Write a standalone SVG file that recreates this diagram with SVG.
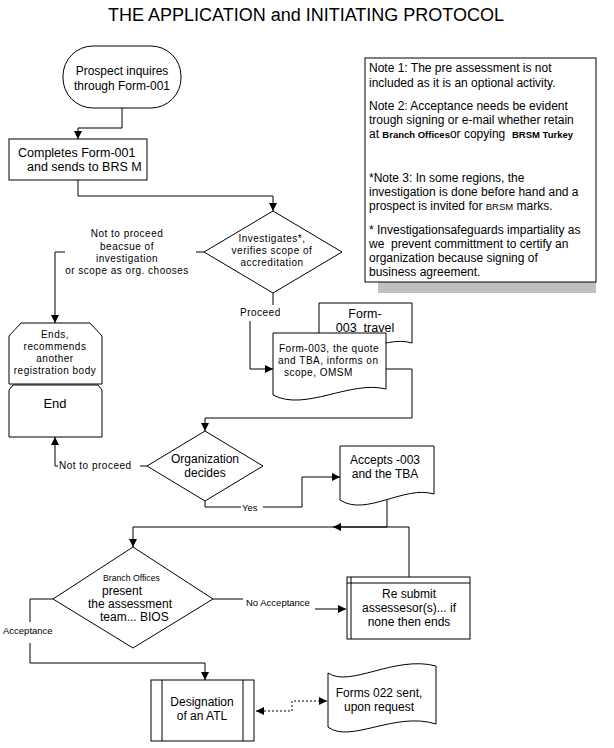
<svg xmlns="http://www.w3.org/2000/svg" width="614" height="748" viewBox="0 0 614 748">
<defs>
<marker id="arr" viewBox="0 0 10 10" refX="10" refY="5" markerWidth="8" markerHeight="8" markerUnits="userSpaceOnUse" orient="auto-start-reverse">
<path d="M0,0 L10,5 L0,10 z" fill="#000"/>
</marker>
<style>
.s{fill:#fff;stroke:#000;stroke-width:1}
.c{fill:none;stroke:#000;stroke-width:1}
.d{fill:none;stroke:#000;stroke-width:1;stroke-dasharray:2,2}
text{font-family:"Liberation Sans",Arial,sans-serif;fill:#000}
.t12{font-size:12px}
.t125{font-size:12.5px}
.sm{font-size:10px;letter-spacing:0.5px}
.lb{font-size:9.5px}
.mid{text-anchor:middle}
.cal{font-size:9.5px;font-weight:bold}
</style>
</defs>
<rect width="614" height="748" fill="#fff"/>
<g id="title"><text x="306" y="21" font-size="18" class="mid">THE APPLICATION and INITIATING PROTOCOL</text></g>

<g id="connectors">
<path class="c" d="M122,108 V128 H78 V139" marker-end="url(#arr)"/>
<path class="c" d="M78,180 V196 H273 V211" marker-end="url(#arr)"/>
<path class="c" d="M204,252 H196"/>
<path class="c" d="M65,252 H55 V323" marker-end="url(#arr)"/>
<path class="c" d="M273,293 V305"/>
<path class="c" d="M250,321 V369 H273" marker-end="url(#arr)"/>
<path class="c" d="M386,369 H412 V418 H205 V431" marker-end="url(#arr)"/>
<path class="c" d="M147,466 H140"/>
<path class="c" d="M58,466 H55 V437" marker-end="url(#arr)"/>
<path class="c" d="M205,501 V507 H241"/>
<path class="c" d="M263,507 H302 V477 H340" marker-end="url(#arr)"/>
<path class="c" d="M387,500 V527 H133 V547" marker-end="url(#arr)"/>
<path class="c" d="M409,577 V527 H333" marker-end="url(#arr)"/>
<path class="c" d="M213,599 H243"/>
<path class="c" d="M315,609 H346" marker-end="url(#arr)"/>
<path class="c" d="M53,599 H30 V622"/>
<path class="c" d="M30,643 V663 H205 V680" marker-end="url(#arr)"/>
<path class="d" d="M256,711 H292 V701 H327" marker-start="url(#arr)" marker-end="url(#arr)"/>
<text class="sm mid" x="127" y="237">Not to proceed</text>
<text class="sm mid" x="127" y="250">beacsue of</text>
<text class="sm mid" x="127" y="262">investigation</text>
<text class="sm mid" x="127" y="274">or scope as org. chooses</text>
<text class="sm" x="240" y="316">Proceed</text>
<text class="sm" x="59" y="469">Not to proceed</text>
<text class="lb" x="242" y="511">Yes</text>
<text class="lb" x="246" y="606">No Acceptance</text>
<text class="lb" x="3" y="634">Acceptance</text>
</g>

<g id="n-prospect">
<rect class="s" x="63" y="46" width="118" height="62" rx="30" ry="30"/>
<text class="t12 mid" x="122" y="75">Prospect inquires</text>
<text class="t12 mid" x="122" y="90">through Form-001</text>
</g>

<g id="n-completes">
<rect class="s" x="9" y="139" width="138" height="41"/>
<text class="t125" x="18" y="157">Completes Form-001</text>
<text class="t125" x="27" y="171">and sends to BRS M</text>
</g>

<g id="n-investigates">
<polygon class="s" points="273,211 342,252 273,293 204,252"/>
<text class="sm mid" x="272" y="242">Investigates*,</text>
<text class="sm mid" x="272" y="254">verifies scope of</text>
<text class="sm mid" x="272" y="266">accreditation</text>
</g>

<g id="n-ends">
<polygon class="s" points="21,323 90,323 102,336 102,384 9,384 9,336"/>
<text class="sm mid" x="55" y="338">Ends,</text>
<text class="sm mid" x="55" y="350">recommends</text>
<text class="sm mid" x="55" y="362">another</text>
<text class="sm mid" x="55" y="374">registration body</text>
</g>

<g id="n-end">
<polygon class="s" points="13,385 98,385 102,390 102,437 9,437 9,390"/>
<text class="mid" x="55" y="408" font-size="13">End</text>
</g>

<g id="n-form003travel">
<path class="s" d="M319,303 H412 V343 C382,334 345,366 319,349 Z"/>
<text class="mid" x="365" y="318" font-size="12.5">Form-</text>
<text class="mid" x="365" y="332" font-size="12.5" xml:space="preserve">003  travel</text>
</g>

<g id="n-form003">
<path class="s" d="M273,333 H386 V389 C350,380 305,412 273,395 Z"/>
<text class="sm" x="279" y="352">Form-003, the quote</text>
<text class="sm" x="278" y="364">and TBA, informs on</text>
<text class="sm" x="284" y="376">scope, OMSM</text>
</g>

<g id="n-decides">
<polygon class="s" points="147,466 205,431 263,466 205,501"/>
<text class="t12 mid" x="205" y="463">Organization</text>
<text class="t12 mid" x="205" y="477">decides</text>
</g>

<g id="n-accepts">
<path class="s" d="M340,446 H434 V494 C404,485 366,517 340,500 Z"/>
<text class="t12 mid" x="385" y="464">Accepts -003</text>
<text class="t12 mid" x="385" y="478">and the TBA</text>
</g>

<g id="n-branch">
<polygon class="s" points="133,547 213,599 133,648 53,599"/>
<text x="103" y="581" font-size="8.7">Branch Offices</text>
<text class="t12" x="102" y="595">present</text>
<text class="t12" x="88" y="608">the assessment</text>
<text class="t12" x="100" y="621">team... BIOS</text>
</g>

<g id="n-resubmit">
<rect class="s" x="347" y="577" width="123" height="62"/>
<path class="c" d="M351,577 V639 M347,583 H470"/>
<text class="t12 mid" x="409" y="598">Re submit</text>
<text class="t12 mid" x="409" y="612">assessesor(s)... if</text>
<text class="t12 mid" x="409" y="626">none then ends</text>
</g>

<g id="n-designation">
<rect class="s" x="151" y="680" width="103" height="61"/>
<path class="c" d="M162,680 V741 M243,680 V741"/>
<text class="t12 mid" x="202" y="706">Designation</text>
<text class="t12 mid" x="202" y="720">of an ATL</text>
</g>

<g id="n-forms022">
<path class="s" d="M328,673 C350,688 395,655 436,666 V724 C395,711 350,744 328,727 Z"/>
<text class="t12 mid" x="379" y="697">Forms 022 sent,</text>
<text class="t12 mid" x="379" y="711">upon request</text>
</g>

<g id="n-notes">
<rect x="378" y="282" width="218" height="11" fill="#c0c0c0"/>
<rect class="s" x="365" y="58" width="231" height="224"/>
<text class="t12" x="369" y="72">Note 1: The pre assessment is not</text>
<text class="t12" x="369" y="87">included as it is an optional activity.</text>
<text class="t12" x="369" y="110">Note 2: Acceptance needs be evident</text>
<text class="t12" x="369" y="124">trough signing or e-mail whether retain</text>
<text class="t12" x="369" y="138" xml:space="preserve">at <tspan class="cal">Branch Offices</tspan>or copying  <tspan class="cal">BRSM Turkey</tspan></text>
<text class="t12" x="369" y="182">*Note 3: In some regions, the</text>
<text class="t12" x="369" y="196">investigation is done before hand and a</text>
<text class="t12" x="369" y="210">prospect is invited for <tspan font-size="9.5">BRSM</tspan> marks.</text>
<text class="t12" x="369" y="234">* Investigationsafeguards impartiality as</text>
<text class="t12" x="369" y="248" xml:space="preserve">we  prevent committment to certify an</text>
<text class="t12" x="369" y="262">organization because signing of</text>
<text class="t12" x="369" y="276">business agreement.</text>
</g>
</svg>
